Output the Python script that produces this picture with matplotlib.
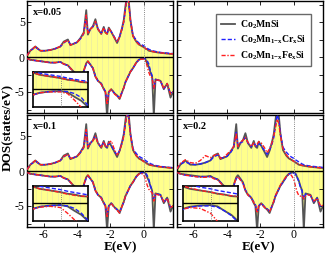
import matplotlib
matplotlib.use("Agg")
import matplotlib.pyplot as plt
from matplotlib.ticker import MultipleLocator

plt.rcParams['font.family'] = ['Liberation Serif', 'DejaVu Serif']
plt.rcParams['mathtext.fontset'] = 'custom'
plt.rcParams['mathtext.rm'] = 'Liberation Serif:bold'
plt.rcParams['mathtext.it'] = 'Liberation Serif:bold'
plt.rcParams['mathtext.bf'] = 'Liberation Serif:bold'
plt.rcParams['hatch.color'] = '#dcdcb4'
plt.rcParams['hatch.linewidth'] = 0.3
plt.rcParams['axes.unicode_minus'] = False

# ---------------- data ----------------
energy = [-7.0, -6.8, -6.5, -6.2, -5.9, -5.6, -5.3, -5.0, -4.8, -4.55,
          -4.4, -4.2, -4.0, -3.8, -3.6, -3.45, -3.35, -3.2, -3.05, -2.9,
          -2.75, -2.55, -2.4, -2.3, -2.2, -2.1, -1.95, -1.75, -1.6, -1.45,
          -1.3, -1.2, -1.1, -1.0, -0.9, -0.8, -0.65, -0.45, -0.3, -0.15,
          0.0, 0.1, 0.2, 0.3, 0.4, 0.5, 0.6, 0.7, 0.85, 1.0,
          1.2, 1.4, 1.6, 1.75]

pure_up = [0.2, 0.9, 1.5, 0.9, 0.9, 1.0, 1.2, 1.5, 2.2, 2.5,
           1.7, 1.9, 2.1, 2.7, 3.5, 6.7, 3.2, 4.0, 4.4, 5.4,
           4.0, 3.3, 4.3, 3.5, 3.3, 4.2, 3.6, 2.7, 2.0, 2.9,
           4.2, 5.3, 7.3, 9.0, 8.0, 5.3, 3.0, 2.2, 1.8, 1.6,
           1.4, 1.2, 1.1, 0.9, 0.85, 0.8, 0.75, 0.7, 0.65, 0.6,
           0.55, 0.5, 0.45, 0.45]
pure_dn = [-0.2, -0.4, -0.5, -0.6, -0.7, -0.8, -0.8, -0.7, -1.0, -1.2,
           -1.6, -2.1, -2.8, -3.3, -2.0, -0.9, -0.6, -1.1, -1.6, -2.8,
           -3.4, -3.8, -4.6, -5.0, -8.5, -5.0, -4.6, -5.2, -5.5, -6.0,
           -5.0, -4.4, -3.6, -3.1, -2.6, -2.1, -1.6, -0.8, -0.4, -0.25,
           -0.2, -0.35, -0.9, -1.4, -2.2, -2.8, -8.5, -3.2, -3.3, -3.4,
           -4.6, -3.8, -5.8, -5.0]

# x = 0.05
cr05_up = [0.2, 0.9, 1.4, 0.9, 0.9, 1.0, 1.2, 1.5, 2.0, 2.4,
           1.8, 1.9, 2.1, 2.6, 3.3, 5.8, 3.4, 4.0, 4.3, 5.0,
           4.0, 3.4, 4.1, 3.6, 3.4, 4.0, 3.6, 2.8, 2.2, 2.9,
           4.0, 5.0, 6.8, 8.5, 7.6, 5.2, 3.1, 2.4, 2.0, 1.8,
           1.6, 1.4, 1.25, 1.1, 1.0, 0.9, 0.85, 0.8, 0.7, 0.65,
           0.6, 0.55, 0.5, 0.5]
fe05_up = [0.2, 0.9, 1.5, 0.9, 0.9, 1.0, 1.2, 1.5, 2.1, 2.4,
           1.7, 1.9, 2.1, 2.6, 3.4, 6.0, 3.3, 4.0, 4.3, 5.1,
           4.0, 3.3, 4.2, 3.5, 3.3, 4.1, 3.6, 2.7, 2.1, 2.9,
           4.1, 5.1, 7.0, 8.7, 7.8, 5.2, 3.0, 2.2, 1.8, 1.6,
           1.4, 1.2, 1.1, 0.95, 0.85, 0.8, 0.75, 0.7, 0.65, 0.6,
           0.55, 0.5, 0.45, 0.45]
cr05_dn = [-0.2, -0.4, -0.5, -0.6, -0.7, -0.8, -0.8, -0.7, -1.0, -1.2,
           -1.6, -2.1, -2.9, -3.3, -2.1, -1.0, -0.7, -1.1, -1.6, -2.7,
           -3.4, -3.8, -4.5, -4.9, -6.5, -5.0, -4.6, -5.2, -5.5, -5.8,
           -5.0, -4.4, -3.6, -3.1, -2.6, -2.1, -1.6, -0.8, -0.4, -0.25,
           -0.2, -0.25, -0.5, -1.0, -2.0, -2.7, -4.5, -3.2, -3.3, -3.4,
           -4.5, -3.8, -5.2, -5.0]
fe05_dn = [-0.2, -0.4, -0.5, -0.6, -0.7, -0.8, -0.8, -0.7, -1.0, -1.2,
           -1.6, -2.1, -2.9, -3.2, -2.0, -0.9, -0.6, -1.1, -1.6, -2.8,
           -3.4, -3.9, -4.6, -5.0, -6.8, -5.0, -4.6, -5.3, -5.6, -6.0,
           -5.0, -4.4, -3.6, -3.1, -2.6, -2.1, -1.6, -0.8, -0.4, -0.3,
           -0.3, -0.5, -1.3, -2.2, -2.8, -3.0, -4.5, -3.3, -3.3, -3.4,
           -4.5, -3.8, -5.3, -5.0]

# x = 0.1
cr10_up = [0.2, 0.9, 1.4, 0.9, 0.9, 1.0, 1.2, 1.5, 2.0, 2.4,
           1.8, 1.9, 2.1, 2.6, 3.3, 5.6, 3.4, 4.0, 4.3, 5.0,
           4.0, 3.4, 4.1, 3.6, 3.4, 4.0, 3.6, 2.8, 2.3, 2.9,
           4.0, 5.0, 6.7, 8.3, 7.5, 5.2, 3.2, 2.5, 2.1, 1.9,
           1.7, 1.5, 1.35, 1.2, 1.05, 0.95, 0.9, 0.8, 0.7, 0.65,
           0.6, 0.55, 0.5, 0.5]
fe10_up = [0.2, 0.9, 1.5, 0.9, 0.9, 1.0, 1.2, 1.5, 2.1, 2.4,
           1.8, 1.9, 2.1, 2.6, 3.4, 5.9, 3.4, 4.0, 4.3, 5.0,
           4.0, 3.4, 4.2, 3.6, 3.4, 4.0, 4.3, 3.0, 2.3, 2.9,
           4.0, 5.0, 6.8, 8.4, 7.6, 5.2, 3.0, 2.2, 1.8, 1.6,
           1.35, 1.15, 1.0, 0.9, 0.85, 0.8, 0.75, 0.7, 0.65, 0.6,
           0.55, 0.5, 0.45, 0.45]
cr10_dn = [-0.2, -0.4, -0.5, -0.6, -0.7, -0.8, -0.8, -0.7, -1.0, -1.2,
           -1.6, -2.1, -3.0, -3.3, -2.1, -1.0, -0.7, -1.1, -1.6, -2.7,
           -3.4, -3.8, -4.5, -4.9, -6.2, -5.0, -4.6, -5.2, -5.5, -5.8,
           -5.0, -4.4, -3.6, -3.1, -2.6, -2.1, -1.6, -0.8, -0.4, -0.25,
           -0.2, -0.3, -0.6, -1.2, -2.1, -2.8, -4.2, -3.2, -3.3, -3.4,
           -4.5, -3.8, -5.2, -5.0]
fe10_dn = [-0.2, -0.4, -0.5, -0.6, -0.7, -0.8, -0.8, -0.7, -1.0, -1.2,
           -1.6, -2.1, -2.9, -3.2, -2.0, -0.9, -0.6, -1.1, -1.6, -2.8,
           -3.4, -3.9, -4.6, -5.0, -6.5, -5.0, -4.6, -5.3, -5.6, -6.0,
           -5.0, -4.4, -3.6, -3.1, -2.6, -2.1, -1.6, -0.8, -0.45, -0.35,
           -0.5, -1.2, -2.0, -2.6, -2.9, -3.1, -4.3, -3.3, -3.4, -3.5,
           -4.4, -3.9, -5.2, -5.0]

# x = 0.2
cr20_up = [0.3, 1.0, 1.3, 1.0, 0.9, 1.0, 1.2, 1.5, 2.0, 2.3,
           1.9, 1.9, 2.1, 2.6, 3.3, 5.5, 3.6, 4.0, 4.2, 4.8,
           4.0, 3.5, 4.0, 3.7, 3.5, 3.9, 3.6, 2.9, 2.4, 3.0,
           3.9, 4.8, 6.4, 8.0, 7.3, 5.3, 3.4, 2.7, 2.3, 2.0,
           1.8, 1.6, 1.45, 1.3, 1.15, 1.0, 0.9, 0.85, 0.75, 0.7,
           0.65, 0.6, 0.55, 0.5]
fe20_up = [0.3, 1.1, 1.6, 1.2, 1.1, 1.5, 2.2, 1.9, 2.2, 2.5,
           1.8, 2.0, 2.4, 2.9, 3.5, 5.4, 3.5, 4.1, 4.4, 4.8,
           4.1, 3.5, 4.0, 3.6, 3.8, 4.2, 4.0, 3.3, 2.6, 3.2,
           4.1, 5.0, 6.2, 7.4, 6.8, 5.0, 3.2, 2.3, 1.9, 1.6,
           1.4, 1.2, 1.05, 0.95, 0.85, 0.8, 0.75, 0.7, 0.65, 0.6,
           0.55, 0.5, 0.45, 0.45]
cr20_dn = [-0.2, -0.4, -0.6, -0.7, -0.8, -0.8, -0.8, -0.8, -1.0, -1.2,
           -1.6, -2.1, -3.0, -3.2, -2.1, -1.1, -0.8, -1.2, -1.7, -2.7,
           -3.3, -3.8, -4.4, -4.8, -5.8, -5.0, -4.6, -5.1, -5.4, -5.7,
           -5.0, -4.4, -3.6, -3.1, -2.6, -2.1, -1.6, -0.9, -0.45, -0.3,
           -0.3, -0.45, -0.9, -1.5, -2.3, -2.9, -4.0, -3.3, -3.4, -3.5,
           -4.4, -3.9, -5.1, -5.0]
fe20_dn = [-0.2, -0.4, -0.6, -0.7, -0.8, -0.9, -0.9, -0.8, -1.1, -1.3,
           -1.7, -2.2, -3.0, -3.1, -2.0, -1.0, -0.8, -1.3, -1.8, -2.8,
           -3.4, -3.9, -4.5, -4.9, -6.0, -5.0, -4.7, -5.2, -5.5, -5.8,
           -5.0, -4.3, -3.5, -3.0, -2.5, -2.0, -1.4, -0.8, -0.5, -0.6,
           -1.2, -2.2, -3.0, -3.5, -3.6, -3.5, -4.0, -3.6, -3.4, -3.5,
           -4.3, -3.9, -5.0, -4.9]

panels = [
    ("x=0.05", cr05_up, cr05_dn, fe05_up, fe05_dn),
    ("x=0.1", cr10_up, cr10_dn, fe10_up, fe10_dn),
    ("x=0.2", cr20_up, cr20_dn, fe20_up, fe20_dn),
]

legend_labels = [r"Co$_2$MnSi",
                 r"Co$_2$Mn$_{1\mathrm{-x}}$Cr$_\mathrm{x}$Si",
                 r"Co$_2$Mn$_{1\mathrm{-x}}$Fe$_\mathrm{x}$Si"]

GRAY = '#555555'
BLUE = '#2020ff'
RED = '#ff2020'
YEL = '#ffff8c'
DASH = (0, (3, 1.5))
DASHDOT = (0, (3, 1.2, 1, 1.2))

# ---------------- figure ----------------
fig = plt.figure(figsize=(3.25, 2.54), dpi=100)
L1, L2, W = 27/325, 177/325, 146/325
B1, B2, H = (254-113)/254, (254-227)/254, 112/254
pos = {(0, 0): [L1, B1, W, H], (0, 1): [L2, B1, W, H],
       (1, 0): [L1, B2, W, H], (1, 1): [L2, B2, W, H]}
axes = {k: fig.add_axes(v) for k, v in pos.items()}


def style(ax, ylab, xlab):
    ax.set_xlim(-7, 1.75)
    ax.set_ylim(-8, 8)
    ax.xaxis.set_major_locator(MultipleLocator(2))
    ax.yaxis.set_major_locator(MultipleLocator(5))
    ax.yaxis.set_minor_locator(MultipleLocator(2.5))
    ax.tick_params(which='both', direction='in', top=True, right=True,
                   length=3, width=0.6, labelsize=8.5, pad=1.5)
    ax.tick_params(which='minor', length=3)
    if not ylab:
        ax.set_yticklabels([])
    if not xlab:
        ax.set_xticklabels([])
    for s in ax.spines.values():
        s.set_linewidth(1.0)


def draw(ax, cr_up, cr_dn, fe_up, fe_dn):
    ax.fill_between(energy, 0, pure_up, facecolor=YEL, hatch='|||',
                    edgecolor='none', linewidth=0, zorder=1)
    ax.fill_between(energy, pure_dn, 0, facecolor=YEL, hatch='|||',
                    edgecolor='none', linewidth=0, zorder=1)
    ax.plot(energy, pure_up, color=GRAY, lw=1.3, zorder=2)
    ax.plot(energy, pure_dn, color=GRAY, lw=1.3, zorder=2)
    ax.plot(energy, cr_up, color=BLUE, lw=1.0, ls=DASH, zorder=3)
    ax.plot(energy, cr_dn, color=BLUE, lw=1.0, ls=DASH, zorder=3)
    ax.plot(energy, fe_up, color=RED, lw=1.0, ls=DASHDOT, zorder=4)
    ax.plot(energy, fe_dn, color=RED, lw=1.0, ls=DASHDOT, zorder=4)
    ax.axhline(0, color='black', lw=1.0, zorder=5)
    ax.axvline(0, color='#888888', lw=0.7, ls=(0, (1, 1.2)), zorder=5)


grid = [(0, 0), (1, 0), (1, 1)]
for (key, (lab, cu, cd, fu, fd)) in zip(grid, panels):
    ax = axes[key]
    draw(ax, cu, cd, fu, fd)
    style(ax, ylab=(key[1] == 0), xlab=(key[0] == 1))
    ax.text(0.04, 0.895, lab, transform=ax.transAxes, fontsize=7.5,
            fontweight='bold', va='center', ha='left', zorder=10)
    ins = ax.inset_axes([0.04, 0.05, 0.38, 0.32], zorder=8)
    ins.set_facecolor('white')
    draw(ins, cu, cd, fu, fd)
    ins.set_xlim(-0.4, 0.4)
    ins.set_ylim(-2.2, 2.2)
    ins.set_xticks([])
    ins.set_yticks([])
    for s in ins.spines.values():
        s.set_linewidth(1.2)

# empty top-right panel with legend
axl = axes[(0, 1)]
style(axl, ylab=False, xlab=False)
hs = [axl.plot([], [], color=GRAY, lw=1.3)[0],
      axl.plot([], [], color=BLUE, lw=1.0, ls=DASH)[0],
      axl.plot([], [], color=RED, lw=1.0, ls=DASHDOT)[0]]
leg = axl.legend(hs, legend_labels, loc='upper left',
                 bbox_to_anchor=(0.27, 0.885), prop={'size': 7, 'weight': 'bold'},
                 frameon=True, fancybox=False, edgecolor='#444444',
                 handlelength=1.5, handletextpad=0.5, borderpad=0.45,
                 labelspacing=0.3, borderaxespad=0)
leg.get_frame().set_linewidth(1.0)

fig.text(0.026, 0.5, 'DOS(states/eV)', rotation=90, fontsize=9.5,
         fontweight='bold', ha='center', va='center')
fig.text(120/325, 0.028, 'E(eV)', fontsize=9.5, fontweight='bold',
         ha='center', va='center')
fig.text(258/325, 0.028, 'E(eV)', fontsize=9.5, fontweight='bold',
         ha='center', va='center')

fig.savefig('out.png', dpi=100)
